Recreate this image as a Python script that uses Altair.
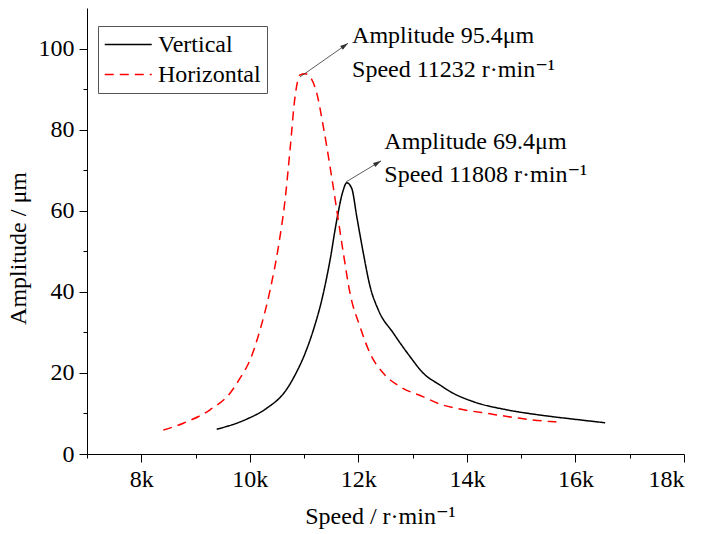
import math
import altair as alt
import pandas as pd

# ---------------- data ----------------
vert_speed = [9390, 9943, 10312, 10649, 10865, 11018, 11171, 11326, 11478, 11602,
              11713, 11786, 11878, 11971, 12092, 12216, 12369, 12645, 12953, 13198,
              13506, 13690, 14120, 14735, 15349, 15963, 16547]
vert_amp = [6.1, 8.6, 11.3, 15.4, 20.3, 24.8, 30.6, 38.0, 47.8, 57.7,
            64.7, 66.9, 65.5, 58.5, 49.5, 41.3, 35.5, 29.8, 24.0, 19.9,
            17.0, 15.4, 12.9, 10.9, 9.6, 8.6, 7.7]

hor_speed = [8406, 8775, 9267, 9635, 9820, 10004, 10188, 10373, 10526, 10649,
             10741, 10833, 10926, 11018, 11110, 11233, 11355, 11478, 11602, 11724,
             11847, 12031, 12216, 12461, 12769, 13198, 13506, 13874, 14427, 14980,
             15533, 15650]
hor_amp = [5.9, 7.6, 10.9, 15.0, 18.7, 23.2, 30.6, 40.4, 51.1, 62.6,
           75.0, 88.1, 93.5, 93.8, 93.0, 89.0, 80.7, 70.9, 60.2, 49.5,
           39.6, 31.4, 24.8, 19.9, 16.6, 14.1, 12.3, 11.1, 9.9, 8.8,
           8.0, 7.9]

series_names = ["Vertical", "Horizontal"]
series_colors = ["#000000", "#ff0000"]
series_dash = [[1, 0], [9, 6]]

x_domain = [7000, 18000]
y_domain = [0, 110]
x_major = [8000, 10000, 12000, 14000, 16000, 18000]
x_minor = [7000, 9000, 11000, 13000, 15000, 17000]
y_major = [0, 20, 40, 60, 80, 100]
y_minor = [10, 30, 50, 70, 90]

# annotations: arrow start (on the curve) and arrow tip, then text anchor
arrow_x0 = [10926, 11773]
arrow_y0 = [93.0, 67.1]
arrow_x1 = [11810, 12418]
arrow_y1 = [101.3, 72.3]

ann_x = [11884, 11884, 12479, 12479]
ann_y = [101.3, 93.0, 75.2, 67.2]
ann_text = ["Amplitude 95.4\u03bcm", "Speed 11232 r\u00b7min\u207b\u00b9",
            "Amplitude 69.4\u03bcm", "Speed 11808 r\u00b7min\u207b\u00b9"]

x_title = "Speed /  r\u00b7min\u207b\u00b9"
y_title = "Amplitude / \u03bcm"

# ---------------- layout / style ----------------
W, H = 597, 446
FONT = "'Liberation Serif', 'Times New Roman', Times, 'DejaVu Serif', serif"

df = pd.concat([
    pd.DataFrame({"speed": vert_speed, "amp": vert_amp, "series": series_names[0]}),
    pd.DataFrame({"speed": hor_speed, "amp": hor_amp, "series": series_names[1]}),
], ignore_index=True)

xscale = alt.Scale(domain=x_domain, nice=False, zero=False)
yscale = alt.Scale(domain=y_domain, nice=False)

major_x = alt.Axis(values=x_major, labelExpr="datum.value/1000 + 'k'", tickSize=8,
                   labelPadding=5, title=x_title, titleFontWeight="normal",
                   titleBaseline="alphabetic", titleY=69, titleX=293,
                   titleAlign="center", grid=False, orient="bottom")
major_y = alt.Axis(values=y_major, tickSize=8, labelPadding=5, title=y_title,
                   titleFontWeight="normal", titlePadding=8, titleY=240, grid=False,
                   orient="left")

lines = alt.Chart(df).mark_line(strokeWidth=1.5, interpolate="monotone").encode(
    x=alt.X("speed:Q", scale=xscale, axis=major_x),
    y=alt.Y("amp:Q", scale=yscale, axis=major_y),
    color=alt.Color("series:N", scale=alt.Scale(domain=series_names, range=series_colors),
                    legend=alt.Legend(title=None)),
    strokeDash=alt.StrokeDash("series:N", scale=alt.Scale(domain=series_names, range=series_dash),
                              legend=alt.Legend(title=None)),
)

minor_x = alt.Axis(values=x_minor, tickSize=4, labels=False, domain=False, title=None,
                   grid=False, orient="bottom")
minor_y = alt.Axis(values=y_minor, tickSize=4, labels=False, domain=False, title=None,
                   grid=False, orient="left")
minor = alt.Chart(df).mark_point(opacity=0).encode(
    x=alt.X("speed:Q", scale=xscale, axis=minor_x),
    y=alt.Y("amp:Q", scale=yscale, axis=minor_y),
)

# arrows
px_per_x = W / (x_domain[1] - x_domain[0])
px_per_y = H / (y_domain[1] - y_domain[0])
arr = pd.DataFrame({"x0": arrow_x0, "y0": arrow_y0, "x1": arrow_x1, "y1": arrow_y1})
arr["ang"] = [math.degrees(math.atan2((b - a) * px_per_x, (d - c) * px_per_y))
              for a, b, c, d in zip(arrow_x0, arrow_x1, arrow_y0, arrow_y1)]

arrow_lines = alt.Chart(arr).mark_rule(color="#333333", strokeWidth=0.8).encode(
    x=alt.X("x0:Q", scale=xscale, axis=None), x2="x1:Q",
    y=alt.Y("y0:Q", scale=yscale, axis=None), y2="y1:Q",
)
arrow_heads = alt.Chart(arr).mark_point(
    shape="M0,0L0.6,2L-0.6,2Z", filled=True, size=64, color="#333333", opacity=1
).encode(
    x=alt.X("x1:Q", scale=xscale, axis=None),
    y=alt.Y("y1:Q", scale=yscale, axis=None),
    angle=alt.Angle("ang:Q", scale=None),
)

ann = pd.DataFrame({"x": ann_x, "y": ann_y, "t": ann_text})
texts = alt.Chart(ann).mark_text(align="left", baseline="alphabetic", font=FONT,
                                 fontSize=24, color="#000000").encode(
    x=alt.X("x:Q", scale=xscale, axis=None),
    y=alt.Y("y:Q", scale=yscale, axis=None),
    text="t:N",
)

chart = alt.layer(lines, minor, arrow_lines, arrow_heads, texts).resolve_axis(
    x="independent", y="independent"
).properties(
    width=W, height=H,
    autosize=alt.AutoSizeParams(type="none"),
    padding={"left": 87, "top": 8, "right": 707 - 87 - W, "bottom": 534 - 8 - H},
    background="white",
).configure_view(stroke=None).configure_axis(
    labelFont=FONT, titleFont=FONT, labelFontSize=24, titleFontSize=24,
    labelColor="#000000", titleColor="#000000", domainColor="#000000",
    tickColor="#000000", domainWidth=1, tickWidth=1,
).configure_legend(
    orient="none", legendX=11, legendY=18, strokeColor="#555555", fillColor="white",
    padding=6, symbolType="M-1,0L3,0", symbolSize=552, symbolStrokeWidth=1.5,
    labelFont=FONT, labelFontSize=24, labelColor="#000000", labelOffset=29,
    rowPadding=5, labelLimit=0,
)

chart.save("out.html", embed_options={"renderer": "svg", "actions": False})
